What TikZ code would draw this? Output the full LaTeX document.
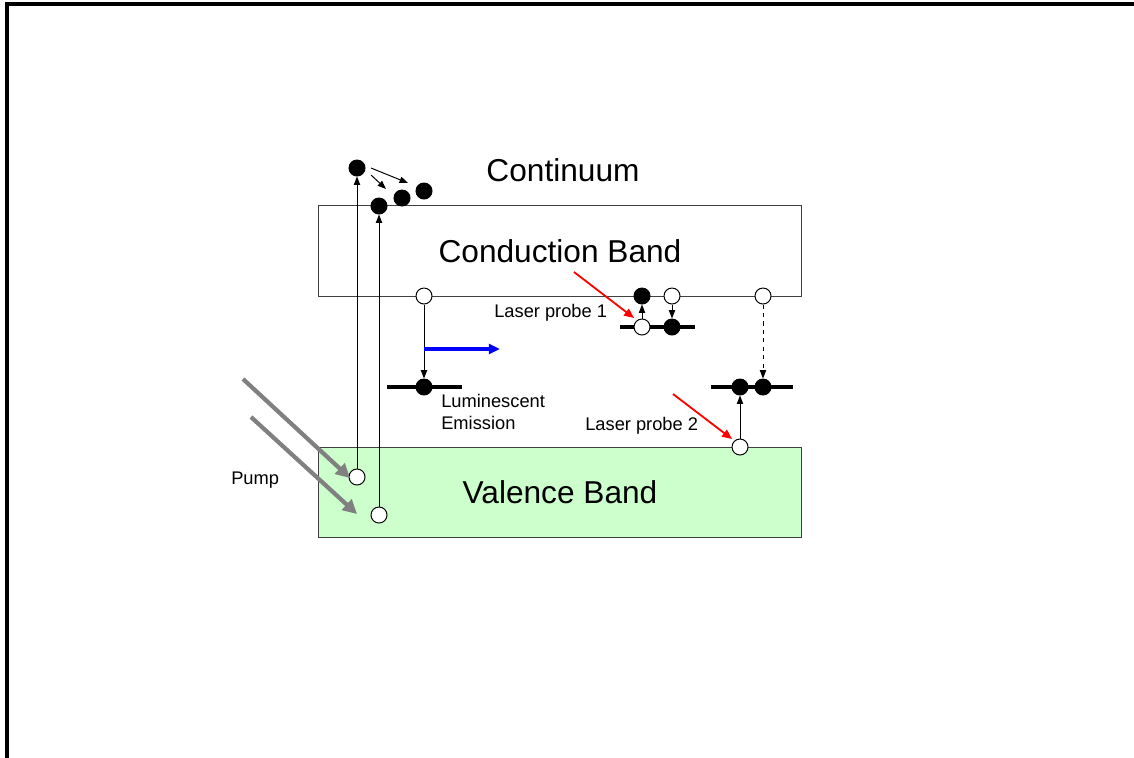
\documentclass[tikz,border=0pt]{standalone}
\usepackage{fontspec}
\setmainfont{Liberation Sans}
\usetikzlibrary{arrows.meta, positioning}
\definecolor{vbgreen}{HTML}{CCFFCC}
\definecolor{pumpgray}{HTML}{808080}
\tikzset{
  electron/.style={circle, draw, fill=black, inner sep=0pt,
    minimum size=0.4cm, line width=0.7pt},
  hole/.style={circle, draw, fill=white, inner sep=0pt,
    minimum size=0.4cm, line width=0.7pt},
  band/.style={draw=black!75, line width=0.7pt, inner sep=0pt,
    minimum width=12.05cm, minimum height=2.26cm,
    font=\fontsize{22.5}{27}\selectfont},
  level/.style={line width=2.2pt},
  trans/.style={draw, line width=0.7pt, -{Triangle[length=6pt,width=4.5pt]}},
  pump/.style={draw=pumpgray, line width=3pt, -{Triangle[length=10pt,width=10pt]}},
  probe/.style={draw=red, line width=1.3pt, -{Triangle[length=7pt,width=6pt]}},
  emit/.style={draw=blue, line width=2.4pt, -{Triangle[length=8pt,width=7pt]}},
  label/.style={font=\fontsize{13}{15.6}\selectfont, inner sep=0pt, align=left},
}

\begin{document}
\begin{tikzpicture}[x=0.025cm, y=-0.025cm]
  \useasboundingbox (0,0) rectangle (1134,758);
  \draw[line width=2.2pt] (7,758) -- (7,4) -- (1134,4);

  % bands
  \node[band] (cb) at (560,251) {Conduction Band};
  \node[band, fill=vbgreen] (vb) at (560,492.5) {Valence Band};
  \node[font=\fontsize{22.5}{27}\selectfont] (cont) at (563,170) {Continuum};

  % levels in the gap
  \draw[level] (387,387) -- (462,387);
  \draw[level] (620,327) -- (695,327);
  \draw[level] (711,387) -- (793,387);

  % pumped carriers
  \node[hole] (ph1) at (357,477) {};
  \node[hole] (ph2) at (379,515) {};
  \node[electron] (pe1) at (357,168) {};
  \node[electron] (pe2) at (379,206) {};
  \node[electron] (pe3) at (402,198) {};
  \node[electron] (pe4) at (424,191) {};
  \draw[trans] (ph1) -- (pe1);
  \draw[trans] (ph2) -- (pe2);
  \coordinate (r1s) at (371,168);
  \coordinate (r1e) at (408,183);
  \coordinate (r2s) at (371,175);
  \coordinate (r2e) at (386,189);
  \draw[trans] (r1s) -- (r1e);
  \draw[trans] (r2s) -- (r2e);

  % pump beams
  \coordinate (p1s) at (243,379);
  \coordinate (p1e) at (350,478);
  \coordinate (p2s) at (251,417);
  \coordinate (p2e) at (357,514);
  \draw[pump] (p1s) -- (p1e);
  \draw[pump] (p2s) -- (p2e);
  \node[label, anchor=west] (pumplbl) at (231,480) {Pump};

  % luminescence
  \node[hole] (lh) at (424,296) {};
  \node[electron] (le) at (424,387) {};
  \draw[trans] (lh) -- (le);
  \coordinate (ls) at (424,349);
  \coordinate (lt) at (500,349);
  \draw[emit] (ls) -- (lt);
  \node[label, anchor=north west] (lumlbl) at (441,394) {Luminescent\\Emission};

  % laser probe 1
  \node[electron] (ae1) at (642,296) {};
  \node[hole] (ah1) at (672,296) {};
  \node[hole] (ah2) at (642,327) {};
  \node[electron] (ae2) at (672,327) {};
  \draw[trans] (ah2) -- (ae1);
  \draw[trans] (ah1) -- (ae2);
  \coordinate (q1s) at (574,272);
  \coordinate (q1e) at (634,318);
  \draw[probe] (q1s) -- (q1e);
  \node[label, anchor=west] (probeA) at (494,313) {Laser probe 1};

  % laser probe 2
  \node[hole] (bh1) at (763,296) {};
  \node[electron] (be1) at (763,387) {};
  \node[electron] (be2) at (740,387) {};
  \node[hole] (bh2) at (740,447) {};
  \draw[trans, dashed] (bh1) -- (be1);
  \draw[trans] (bh2) -- (be2);
  \coordinate (q2s) at (673,394);
  \coordinate (q2e) at (732,439);
  \draw[probe] (q2s) -- (q2e);
  \node[label, anchor=west] (probeB) at (585,426) {Laser probe 2};
\end{tikzpicture}
\end{document}
